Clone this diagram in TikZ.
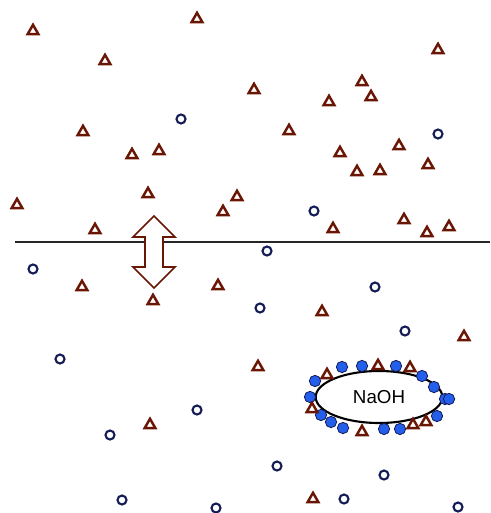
\documentclass[tikz,border=0pt]{standalone}
\usepackage{fontspec}
\setmainfont{Liberation Sans}
\usepackage{tikz}
\usetikzlibrary{shapes.geometric}

\definecolor{tribrown}{RGB}{105,22,4}
\definecolor{ionnavy}{RGB}{20,28,85}
\definecolor{dotblue}{RGB}{35,95,235}

\tikzset{
  tri/.style={regular polygon, regular polygon sides=3, draw=tribrown, fill=white,
    line width=2.1pt, minimum size=0.37cm, inner sep=0pt},
  ion/.style={circle, draw=ionnavy, fill=white, line width=1.8pt,
    minimum size=0.27cm, inner sep=0pt},
  naion/.style={circle, draw=ionnavy, fill=dotblue, line width=0.7pt,
    minimum size=0.34cm, inner sep=0pt}
}

\begin{document}
\begin{tikzpicture}[x=0.03cm, y=-0.03cm]
\useasboundingbox (0,0) rectangle (490,513);

% Surface line
\coordinate (sl) at (15,242);
\coordinate (sr) at (490,242);
\draw[line width=1.3pt, black!85] (sl) -- (sr);

% Exchange arrow across the surface
\draw[line width=1.3pt, draw=tribrown, fill=white]
  (154,216) -- (175,237) -- (163,237) -- (163,267) -- (175,267) -- (154,288)
  -- (133,267) -- (145,267) -- (145,237) -- (133,237) -- cycle;

% Triangles (free molecules)
\foreach \x/\y [count=\i] in {33/31, 197/19, 105/61, 83/132, 132/155, 159/151,
    148/194, 17/205, 237/197, 223/212, 95/230, 438/50, 254/90, 362/82, 371/97,
    329/102, 289/131, 399/146, 340/153, 357/172, 380/171, 428/165, 404/220,
    449/227, 427/233, 333/229, 82/287, 153/301, 218/286, 150/425, 322/312,
    464/337, 258/367, 313/499} {
  \node[tri] (t\i) at (\x,\y) {};
}

% Circles (free ions)
\foreach \x/\y [count=\i] in {181/119, 438/134, 314/211, 267/251, 33/269,
    375/287, 260/308, 405/331, 60/359, 197/410, 110/435, 277/466, 384/475,
    122/500, 216/508, 344/499, 458/507} {
  \node[ion] (c\i) at (\x,\y) {};
}

% NaOH particle
\node[ellipse, draw, line width=1.8pt, fill=white, minimum width=3.8cm,
  minimum height=1.56cm, inner sep=0pt, font=\fontsize{16}{19}\selectfont]
  (naoh) at (379,397) {NaOH};

% Ions adsorbed on the particle
\foreach \x/\y [count=\i] in {315/381, 310/397, 321/415, 331/422, 343/428,
    342/367, 362/366, 396/366, 422/376, 434/387, 445/399, 449/399, 437/416,
    384/429, 400/429} {
  \node[naion] (n\i) at (\x,\y) {};
}
\foreach \x/\y [count=\i] in {327/375, 378/366, 410/368, 312/409, 362/432,
    413/425, 426/422} {
  \node[tri] (a\i) at (\x,\y) {};
}
\end{tikzpicture}
\end{document}
